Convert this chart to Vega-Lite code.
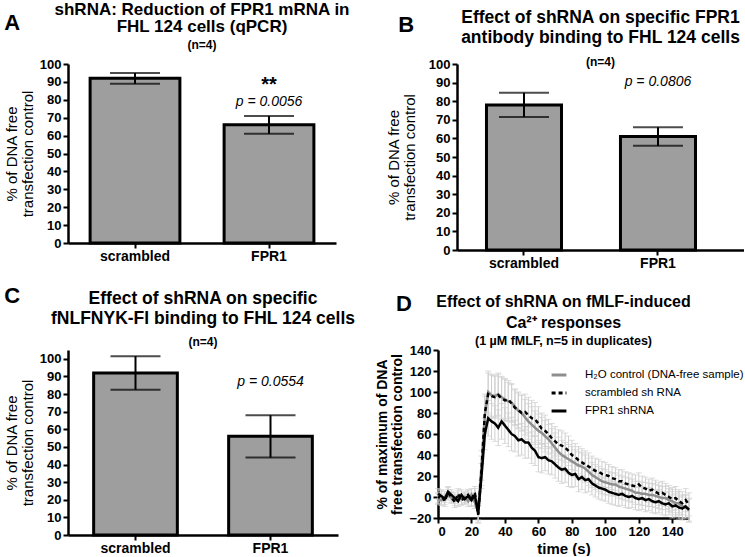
{
"$schema": "https://vega.github.io/schema/vega-lite/v6.json",
"background": "white",
"padding": {"left": 4, "top": 0, "right": 0, "bottom": 0},
"config": {
  "font": "Liberation Sans",
  "view": {"stroke": null},
  "title": {"font": "Liberation Sans", "fontSize": 17, "fontWeight": "bold", "color": "black", "lineHeight": 18, "subtitleFont": "Liberation Sans", "subtitleFontSize": 12, "subtitleFontWeight": "bold", "subtitleColor": "black", "subtitlePadding": 3, "offset": 5},
  "axis": {"grid": false, "domainColor": "black", "domainWidth": 2.5, "tickColor": "black", "tickWidth": 2, "tickSize": 5, "labelFont": "Liberation Sans", "labelFontWeight": "bold", "labelFontSize": 13, "labelColor": "black", "titleFont": "Liberation Sans", "titleColor": "black", "labelPadding": 2},
  "legend": {"labelFont": "Liberation Sans", "labelFontSize": 11.5, "labelColor": "black", "labelLimit": 0}
},
"spacing": 14,
"vconcat": [
 {"hconcat": [
  {"title": {"text": "A", "anchor": "start", "fontSize": 22, "offset": -34},
   "vconcat": [{
    "width": 268, "height": 179,
    "title": {"text": ["shRNA: Reduction of FPR1 mRNA in", "FHL 124 cells (qPCR)"], "subtitle": "(n=4)", "fontSize": 17, "lineHeight": 17.5, "subtitleFontSize": 12, "subtitlePadding": 4, "offset": 6},
    "data": {"values": [
      {"group": "scrambled", "value": 92, "sem": 3},
      {"group": "FPR1", "value": 66, "sem": 5, "p": "p = 0.0056", "sig": "**"}
    ]},
    "encoding": {
      "x": {"field": "group", "type": "nominal", "sort": null, "scale": {"padding": 0}, "axis": {"title": null, "labelAngle": 0, "labelFontSize": 14, "labelPadding": 1}},
      "y": {"field": "value", "type": "quantitative", "scale": {"domain": [0, 100]}, "axis": {"title": ["% of DNA free", "transfection control"], "titleFontWeight": "normal", "titleFontSize": 15, "titleLineHeight": 16, "values": [0,10,20,30,40,50,60,70,80,90,100], "titlePadding": 4}}
    },
    "layer": [
      {"mark": {"type": "bar", "fill": "#9e9e9e", "stroke": "black", "strokeWidth": 3, "width": {"band": 0.67}}},
      {"mark": {"type": "errorbar", "color": "black", "thickness": 2, "ticks": {"size": 50, "thickness": 2}}, "encoding": {"yError": {"field": "sem"}}},
      {"transform": [{"filter": "datum.p"}], "mark": {"type": "text", "dy": -23, "fontSize": 14, "fontStyle": "italic", "baseline": "middle"}, "encoding": {"text": {"field": "p"}}},
      {"transform": [{"filter": "datum.sig"}], "mark": {"type": "text", "dy": -40, "fontSize": 20, "fontWeight": "bold", "baseline": "middle"}, "encoding": {"text": {"field": "sig"}}}
    ]
   }]
  },
  {"title": {"text": "B", "anchor": "start", "fontSize": 22, "offset": -28, "dx": 12},
   "vconcat": [{
    "width": 287, "height": 186,
    "title": {"text": ["Effect of shRNA on specific FPR1", "antibody binding to FHL 124 cells"], "subtitle": "(n=4)", "fontSize": 17.5, "lineHeight": 20, "subtitleFontSize": 12, "subtitlePadding": 11, "offset": -10},
    "data": {"values": [
      {"group": "scrambled", "value": 78, "sem": 6.5},
      {"group": "FPR1", "value": 61, "sem": 5, "p": "p = 0.0806"}
    ]},
    "encoding": {
      "x": {"field": "group", "type": "nominal", "sort": null, "scale": {"paddingInner": 0, "paddingOuter": 0.071, "align": 0}, "axis": {"title": null, "labelAngle": 0, "labelFontSize": 14, "labelPadding": 1}},
      "y": {"field": "value", "type": "quantitative", "scale": {"domain": [0, 100]}, "axis": {"title": ["% of DNA free", "transfection control"], "titleFontWeight": "normal", "titleFontSize": 15, "titleLineHeight": 16, "values": [0,10,20,30,40,50,60,70,80,90,100], "titlePadding": 11}}
    },
    "layer": [
      {"mark": {"type": "bar", "fill": "#9e9e9e", "stroke": "black", "strokeWidth": 3, "width": {"band": 0.56}}},
      {"mark": {"type": "errorbar", "color": "black", "thickness": 2, "ticks": {"size": 50, "thickness": 2}}, "encoding": {"yError": {"field": "sem"}}},
      {"transform": [{"filter": "datum.p"}], "mark": {"type": "text", "dy": -55, "fontSize": 14, "fontStyle": "italic", "baseline": "middle"}, "encoding": {"text": {"field": "p"}}}
    ]
   }]
  }
 ], "spacing": 36},
 {"hconcat": [
  {"title": {"text": "C", "anchor": "start", "fontSize": 22, "offset": -18},
   "vconcat": [{
    "width": 270, "height": 185,
    "title": {"text": ["Effect of shRNA on specific", "fNLFNYK-Fl binding to FHL 124 cells"], "subtitle": "(n=4)", "fontSize": 17.5, "lineHeight": 20, "subtitleFontSize": 12, "subtitlePadding": 10, "offset": 2},
    "data": {"values": [
      {"group": "scrambled", "value": 92, "sem": 9.5},
      {"group": "FPR1", "value": 56, "sem": 12, "p": "p = 0.0554"}
    ]},
    "encoding": {
      "x": {"field": "group", "type": "nominal", "sort": null, "scale": {"padding": 0}, "axis": {"title": null, "labelAngle": 0, "labelFontSize": 14, "labelPadding": 1}},
      "y": {"field": "value", "type": "quantitative", "scale": {"domain": [0, 105], "nice": false}, "axis": {"title": ["% of DNA free", "transfection control"], "titleFontWeight": "normal", "titleFontSize": 15, "titleLineHeight": 16, "values": [0,10,20,30,40,50,60,70,80,90,100], "titlePadding": 4}}
    },
    "layer": [
      {"mark": {"type": "bar", "fill": "#9e9e9e", "stroke": "black", "strokeWidth": 3, "width": {"band": 0.62}}},
      {"mark": {"type": "errorbar", "color": "black", "thickness": 2, "ticks": {"size": 50, "thickness": 2}}, "encoding": {"yError": {"field": "sem"}}},
      {"transform": [{"filter": "datum.p"}], "mark": {"type": "text", "dy": -54, "fontSize": 14, "fontStyle": "italic", "baseline": "middle"}, "encoding": {"text": {"field": "p"}}}
    ]
   }]
  },
  {"title": {"text": "D", "anchor": "start", "fontSize": 22, "offset": -22, "dx": 20},
   "vconcat": [{
    "width": 251, "height": 168,
    "title": {"text": ["Effect of shRNA on fMLF-induced", "Ca²⁺ responses"], "subtitle": "(1 µM fMLF, n=5 in duplicates)", "fontSize": 16, "lineHeight": 21, "subtitleFontSize": 12.5, "subtitlePadding": 4, "offset": -3},
    "data": {"values": [
{"s":"H₂O control (DNA-free sample)","t":0,"y":-2,"e":5},{"s":"H₂O control (DNA-free sample)","t":2,"y":-3,"e":5},{"s":"H₂O control (DNA-free sample)","t":4,"y":0,"e":5},{"s":"H₂O control (DNA-free sample)","t":6,"y":2,"e":5},{"s":"H₂O control (DNA-free sample)","t":8,"y":-1,"e":5},{"s":"H₂O control (DNA-free sample)","t":10,"y":-3,"e":5},{"s":"H₂O control (DNA-free sample)","t":12,"y":1,"e":5},{"s":"H₂O control (DNA-free sample)","t":14,"y":-2,"e":5},{"s":"H₂O control (DNA-free sample)","t":16,"y":0,"e":5},{"s":"H₂O control (DNA-free sample)","t":18,"y":-4,"e":5},{"s":"H₂O control (DNA-free sample)","t":20,"y":2,"e":6},{"s":"H₂O control (DNA-free sample)","t":22,"y":-5,"e":6},{"s":"H₂O control (DNA-free sample)","t":24,"y":-14,"e":8},{"s":"H₂O control (DNA-free sample)","t":26,"y":30,"e":14},{"s":"H₂O control (DNA-free sample)","t":28,"y":78,"e":18},{"s":"H₂O control (DNA-free sample)","t":30,"y":100,"e":20},{"s":"H₂O control (DNA-free sample)","t":32,"y":97,"e":20},{"s":"H₂O control (DNA-free sample)","t":34,"y":96,"e":20},{"s":"H₂O control (DNA-free sample)","t":36,"y":98,"e":20},{"s":"H₂O control (DNA-free sample)","t":38,"y":95,"e":20},{"s":"H₂O control (DNA-free sample)","t":40,"y":93,"e":20},{"s":"H₂O control (DNA-free sample)","t":42,"y":91,"e":18},{"s":"H₂O control (DNA-free sample)","t":44,"y":90,"e":18},{"s":"H₂O control (DNA-free sample)","t":46,"y":86,"e":17},{"s":"H₂O control (DNA-free sample)","t":48,"y":82,"e":17},{"s":"H₂O control (DNA-free sample)","t":50,"y":80,"e":17},{"s":"H₂O control (DNA-free sample)","t":52,"y":76,"e":17},{"s":"H₂O control (DNA-free sample)","t":54,"y":72,"e":17},{"s":"H₂O control (DNA-free sample)","t":56,"y":69,"e":17},{"s":"H₂O control (DNA-free sample)","t":58,"y":66,"e":16},{"s":"H₂O control (DNA-free sample)","t":60,"y":63,"e":16},{"s":"H₂O control (DNA-free sample)","t":62,"y":61,"e":15},{"s":"H₂O control (DNA-free sample)","t":64,"y":58,"e":15},{"s":"H₂O control (DNA-free sample)","t":66,"y":55,"e":14},{"s":"H₂O control (DNA-free sample)","t":68,"y":51,"e":14},{"s":"H₂O control (DNA-free sample)","t":70,"y":47,"e":14},{"s":"H₂O control (DNA-free sample)","t":72,"y":43,"e":14},{"s":"H₂O control (DNA-free sample)","t":74,"y":40,"e":14},{"s":"H₂O control (DNA-free sample)","t":76,"y":38,"e":14},{"s":"H₂O control (DNA-free sample)","t":78,"y":36,"e":14},{"s":"H₂O control (DNA-free sample)","t":80,"y":34,"e":14},{"s":"H₂O control (DNA-free sample)","t":82,"y":32,"e":13},{"s":"H₂O control (DNA-free sample)","t":84,"y":30,"e":13},{"s":"H₂O control (DNA-free sample)","t":86,"y":29,"e":13},{"s":"H₂O control (DNA-free sample)","t":88,"y":27,"e":13},{"s":"H₂O control (DNA-free sample)","t":90,"y":24,"e":13},{"s":"H₂O control (DNA-free sample)","t":92,"y":21,"e":12},{"s":"H₂O control (DNA-free sample)","t":94,"y":19,"e":12},{"s":"H₂O control (DNA-free sample)","t":96,"y":17,"e":12},{"s":"H₂O control (DNA-free sample)","t":98,"y":15,"e":12},{"s":"H₂O control (DNA-free sample)","t":100,"y":14,"e":12},{"s":"H₂O control (DNA-free sample)","t":102,"y":13,"e":11},{"s":"H₂O control (DNA-free sample)","t":104,"y":12,"e":11},{"s":"H₂O control (DNA-free sample)","t":106,"y":12,"e":11},{"s":"H₂O control (DNA-free sample)","t":108,"y":10,"e":11},{"s":"H₂O control (DNA-free sample)","t":110,"y":9,"e":11},{"s":"H₂O control (DNA-free sample)","t":112,"y":8,"e":11},{"s":"H₂O control (DNA-free sample)","t":114,"y":7,"e":11},{"s":"H₂O control (DNA-free sample)","t":116,"y":6,"e":11},{"s":"H₂O control (DNA-free sample)","t":118,"y":4,"e":11},{"s":"H₂O control (DNA-free sample)","t":120,"y":4,"e":11},{"s":"H₂O control (DNA-free sample)","t":122,"y":3,"e":11},{"s":"H₂O control (DNA-free sample)","t":124,"y":3,"e":11},{"s":"H₂O control (DNA-free sample)","t":126,"y":2,"e":11},{"s":"H₂O control (DNA-free sample)","t":128,"y":2,"e":11},{"s":"H₂O control (DNA-free sample)","t":130,"y":1,"e":11},{"s":"H₂O control (DNA-free sample)","t":132,"y":0,"e":11},{"s":"H₂O control (DNA-free sample)","t":134,"y":-1,"e":11},{"s":"H₂O control (DNA-free sample)","t":136,"y":-1,"e":11},{"s":"H₂O control (DNA-free sample)","t":138,"y":-3,"e":11},{"s":"H₂O control (DNA-free sample)","t":140,"y":-4,"e":11},{"s":"H₂O control (DNA-free sample)","t":142,"y":-6,"e":11},{"s":"H₂O control (DNA-free sample)","t":144,"y":-6,"e":11},{"s":"H₂O control (DNA-free sample)","t":146,"y":-9,"e":11},{"s":"H₂O control (DNA-free sample)","t":148,"y":-9,"e":11},{"s":"H₂O control (DNA-free sample)","t":150,"y":-13,"e":11},
{"s":"scrambled sh RNA","t":0,"y":-1,"e":5},{"s":"scrambled sh RNA","t":2,"y":2,"e":5},{"s":"scrambled sh RNA","t":4,"y":-4,"e":5},{"s":"scrambled sh RNA","t":6,"y":4,"e":5},{"s":"scrambled sh RNA","t":8,"y":0,"e":5},{"s":"scrambled sh RNA","t":10,"y":-5,"e":5},{"s":"scrambled sh RNA","t":12,"y":3,"e":5},{"s":"scrambled sh RNA","t":14,"y":-3,"e":5},{"s":"scrambled sh RNA","t":16,"y":-1,"e":5},{"s":"scrambled sh RNA","t":18,"y":2,"e":5},{"s":"scrambled sh RNA","t":20,"y":-2,"e":6},{"s":"scrambled sh RNA","t":22,"y":4,"e":6},{"s":"scrambled sh RNA","t":24,"y":-17,"e":8},{"s":"scrambled sh RNA","t":26,"y":25,"e":14},{"s":"scrambled sh RNA","t":28,"y":80,"e":18},{"s":"scrambled sh RNA","t":30,"y":98,"e":20},{"s":"scrambled sh RNA","t":32,"y":96,"e":20},{"s":"scrambled sh RNA","t":34,"y":95,"e":20},{"s":"scrambled sh RNA","t":36,"y":97,"e":20},{"s":"scrambled sh RNA","t":38,"y":94,"e":20},{"s":"scrambled sh RNA","t":40,"y":92,"e":20},{"s":"scrambled sh RNA","t":42,"y":93,"e":18},{"s":"scrambled sh RNA","t":44,"y":89,"e":18},{"s":"scrambled sh RNA","t":46,"y":85,"e":17},{"s":"scrambled sh RNA","t":48,"y":83,"e":17},{"s":"scrambled sh RNA","t":50,"y":80,"e":17},{"s":"scrambled sh RNA","t":52,"y":81,"e":17},{"s":"scrambled sh RNA","t":54,"y":78,"e":17},{"s":"scrambled sh RNA","t":56,"y":75,"e":17},{"s":"scrambled sh RNA","t":58,"y":74,"e":16},{"s":"scrambled sh RNA","t":60,"y":70,"e":16},{"s":"scrambled sh RNA","t":62,"y":65,"e":15},{"s":"scrambled sh RNA","t":64,"y":63,"e":15},{"s":"scrambled sh RNA","t":66,"y":60,"e":14},{"s":"scrambled sh RNA","t":68,"y":56,"e":14},{"s":"scrambled sh RNA","t":70,"y":53,"e":14},{"s":"scrambled sh RNA","t":72,"y":50,"e":14},{"s":"scrambled sh RNA","t":74,"y":49,"e":14},{"s":"scrambled sh RNA","t":76,"y":47,"e":14},{"s":"scrambled sh RNA","t":78,"y":44,"e":14},{"s":"scrambled sh RNA","t":80,"y":40,"e":14},{"s":"scrambled sh RNA","t":82,"y":38,"e":13},{"s":"scrambled sh RNA","t":84,"y":35,"e":13},{"s":"scrambled sh RNA","t":86,"y":33,"e":13},{"s":"scrambled sh RNA","t":88,"y":31,"e":13},{"s":"scrambled sh RNA","t":90,"y":29,"e":13},{"s":"scrambled sh RNA","t":92,"y":27,"e":12},{"s":"scrambled sh RNA","t":94,"y":25,"e":12},{"s":"scrambled sh RNA","t":96,"y":24,"e":12},{"s":"scrambled sh RNA","t":98,"y":22,"e":12},{"s":"scrambled sh RNA","t":100,"y":21,"e":12},{"s":"scrambled sh RNA","t":102,"y":20,"e":11},{"s":"scrambled sh RNA","t":104,"y":18,"e":11},{"s":"scrambled sh RNA","t":106,"y":17,"e":11},{"s":"scrambled sh RNA","t":108,"y":15,"e":11},{"s":"scrambled sh RNA","t":110,"y":15,"e":11},{"s":"scrambled sh RNA","t":112,"y":13,"e":11},{"s":"scrambled sh RNA","t":114,"y":12,"e":11},{"s":"scrambled sh RNA","t":116,"y":11,"e":11},{"s":"scrambled sh RNA","t":118,"y":10,"e":11},{"s":"scrambled sh RNA","t":120,"y":12,"e":11},{"s":"scrambled sh RNA","t":122,"y":9,"e":11},{"s":"scrambled sh RNA","t":124,"y":8,"e":11},{"s":"scrambled sh RNA","t":126,"y":6,"e":11},{"s":"scrambled sh RNA","t":128,"y":7,"e":11},{"s":"scrambled sh RNA","t":130,"y":5,"e":11},{"s":"scrambled sh RNA","t":132,"y":3,"e":11},{"s":"scrambled sh RNA","t":134,"y":4,"e":11},{"s":"scrambled sh RNA","t":136,"y":2,"e":11},{"s":"scrambled sh RNA","t":138,"y":0,"e":11},{"s":"scrambled sh RNA","t":140,"y":-2,"e":11},{"s":"scrambled sh RNA","t":142,"y":-1,"e":11},{"s":"scrambled sh RNA","t":144,"y":-4,"e":11},{"s":"scrambled sh RNA","t":146,"y":-6,"e":11},{"s":"scrambled sh RNA","t":148,"y":-3,"e":11},{"s":"scrambled sh RNA","t":150,"y":-7,"e":11},
{"s":"FPR1 shRNA","t":0,"y":3,"e":5},{"s":"FPR1 shRNA","t":2,"y":1,"e":5},{"s":"FPR1 shRNA","t":4,"y":-2,"e":5},{"s":"FPR1 shRNA","t":6,"y":5,"e":5},{"s":"FPR1 shRNA","t":8,"y":2,"e":5},{"s":"FPR1 shRNA","t":10,"y":-1,"e":5},{"s":"FPR1 shRNA","t":12,"y":-4,"e":5},{"s":"FPR1 shRNA","t":14,"y":2,"e":5},{"s":"FPR1 shRNA","t":16,"y":-2,"e":5},{"s":"FPR1 shRNA","t":18,"y":1,"e":5},{"s":"FPR1 shRNA","t":20,"y":-3,"e":6},{"s":"FPR1 shRNA","t":22,"y":2,"e":6},{"s":"FPR1 shRNA","t":24,"y":-16,"e":8},{"s":"FPR1 shRNA","t":26,"y":20,"e":12},{"s":"FPR1 shRNA","t":28,"y":60,"e":15},{"s":"FPR1 shRNA","t":30,"y":75,"e":17},{"s":"FPR1 shRNA","t":32,"y":72,"e":17},{"s":"FPR1 shRNA","t":34,"y":70,"e":17},{"s":"FPR1 shRNA","t":36,"y":66,"e":17},{"s":"FPR1 shRNA","t":38,"y":72,"e":17},{"s":"FPR1 shRNA","t":40,"y":68,"e":17},{"s":"FPR1 shRNA","t":42,"y":64,"e":16},{"s":"FPR1 shRNA","t":44,"y":60,"e":16},{"s":"FPR1 shRNA","t":46,"y":58,"e":15},{"s":"FPR1 shRNA","t":48,"y":54,"e":15},{"s":"FPR1 shRNA","t":50,"y":55,"e":15},{"s":"FPR1 shRNA","t":52,"y":52,"e":15},{"s":"FPR1 shRNA","t":54,"y":52,"e":15},{"s":"FPR1 shRNA","t":56,"y":47,"e":15},{"s":"FPR1 shRNA","t":58,"y":44,"e":14},{"s":"FPR1 shRNA","t":60,"y":38,"e":14},{"s":"FPR1 shRNA","t":62,"y":37,"e":14},{"s":"FPR1 shRNA","t":64,"y":38,"e":13},{"s":"FPR1 shRNA","t":66,"y":35,"e":13},{"s":"FPR1 shRNA","t":68,"y":34,"e":13},{"s":"FPR1 shRNA","t":70,"y":31,"e":13},{"s":"FPR1 shRNA","t":72,"y":28,"e":13},{"s":"FPR1 shRNA","t":74,"y":26,"e":13},{"s":"FPR1 shRNA","t":76,"y":27,"e":13},{"s":"FPR1 shRNA","t":78,"y":23,"e":13},{"s":"FPR1 shRNA","t":80,"y":21,"e":12},{"s":"FPR1 shRNA","t":82,"y":22,"e":12},{"s":"FPR1 shRNA","t":84,"y":17,"e":12},{"s":"FPR1 shRNA","t":86,"y":19,"e":12},{"s":"FPR1 shRNA","t":88,"y":16,"e":12},{"s":"FPR1 shRNA","t":90,"y":17,"e":12},{"s":"FPR1 shRNA","t":92,"y":13,"e":11},{"s":"FPR1 shRNA","t":94,"y":11,"e":11},{"s":"FPR1 shRNA","t":96,"y":9,"e":11},{"s":"FPR1 shRNA","t":98,"y":8,"e":11},{"s":"FPR1 shRNA","t":100,"y":7,"e":11},{"s":"FPR1 shRNA","t":102,"y":5,"e":11},{"s":"FPR1 shRNA","t":104,"y":4,"e":11},{"s":"FPR1 shRNA","t":106,"y":3,"e":11},{"s":"FPR1 shRNA","t":108,"y":2,"e":11},{"s":"FPR1 shRNA","t":110,"y":3,"e":11},{"s":"FPR1 shRNA","t":112,"y":1,"e":11},{"s":"FPR1 shRNA","t":114,"y":0,"e":11},{"s":"FPR1 shRNA","t":116,"y":1,"e":11},{"s":"FPR1 shRNA","t":118,"y":-1,"e":11},{"s":"FPR1 shRNA","t":120,"y":-2,"e":11},{"s":"FPR1 shRNA","t":122,"y":-1,"e":11},{"s":"FPR1 shRNA","t":124,"y":-3,"e":11},{"s":"FPR1 shRNA","t":126,"y":-2,"e":11},{"s":"FPR1 shRNA","t":128,"y":-4,"e":11},{"s":"FPR1 shRNA","t":130,"y":-5,"e":11},{"s":"FPR1 shRNA","t":132,"y":-4,"e":11},{"s":"FPR1 shRNA","t":134,"y":-6,"e":11},{"s":"FPR1 shRNA","t":136,"y":-7,"e":11},{"s":"FPR1 shRNA","t":138,"y":-6,"e":11},{"s":"FPR1 shRNA","t":140,"y":-9,"e":11},{"s":"FPR1 shRNA","t":142,"y":-8,"e":11},{"s":"FPR1 shRNA","t":144,"y":-10,"e":11},{"s":"FPR1 shRNA","t":146,"y":-11,"e":11},{"s":"FPR1 shRNA","t":148,"y":-9,"e":11},{"s":"FPR1 shRNA","t":150,"y":-12,"e":11}
    ]},
    "encoding": {
      "x": {"field": "t", "type": "quantitative", "scale": {"domain": [0, 150], "nice": false}, "axis": {"title": "time (s)", "titleFontSize": 15, "titleFontWeight": "bold", "values": [0,20,40,60,80,100,120,140], "titlePadding": 3}},
      "y": {"field": "y", "type": "quantitative", "scale": {"domain": [-20, 140], "nice": false}, "axis": {"title": ["% of maximum of DNA", "free transfection control"], "titleFontSize": 14, "titleFontWeight": "bold", "titleLineHeight": 15, "values": [-20,0,20,40,60,80,100,120,140], "titlePadding": 4}}
    },
    "layer": [
      {"mark": {"type": "errorbar", "color": "#cfcfcf", "thickness": 1, "ticks": {"size": 6, "thickness": 1}}, "encoding": {"yError": {"field": "e"}, "detail": {"field": "s"}}},
      {"mark": {"type": "line", "strokeWidth": 2.5},
       "encoding": {
         "color": {"field": "s", "type": "nominal", "sort": null, "scale": {"domain": ["H₂O control (DNA-free sample)", "scrambled sh RNA", "FPR1 shRNA"], "range": ["#8e8e8e", "#000000", "#000000"]}, "legend": {"title": null, "orient": "none", "legendX": 482, "legendY": 302, "symbolType": "stroke", "symbolStrokeWidth": 3, "symbolSize": 220, "rowPadding": 3, "labelOffset": 17, "labelLimit": 0}},
         "strokeDash": {"field": "s", "type": "nominal", "sort": null, "scale": {"domain": ["H₂O control (DNA-free sample)", "scrambled sh RNA", "FPR1 shRNA"], "range": [[1,0],[4,3],[1,0]]}, "legend": {"title": null, "orient": "none", "legendX": 482, "legendY": 302, "symbolType": "stroke", "symbolStrokeWidth": 3, "symbolSize": 220, "rowPadding": 3, "labelOffset": 17, "labelLimit": 0}}
       }}
    ]
   }]
  }
 ], "spacing": 19}
]
}
